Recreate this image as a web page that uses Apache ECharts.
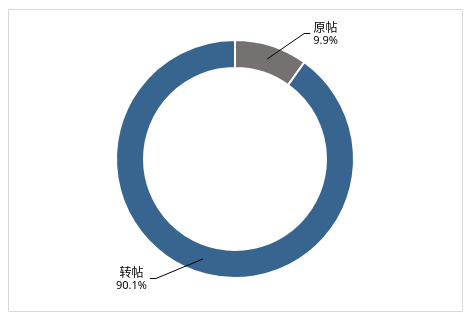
<!DOCTYPE html>
<html>
<head>
<meta charset="utf-8">
<script src="https://cdn.jsdelivr.net/npm/echarts@6/dist/echarts.min.js"></script>
<style>
html,body{margin:0;padding:0;background:#fff;}
#main{width:472px;height:318px;}
</style>
</head>
<body>
<div id="main"></div>
<script>
var categories = ['原帖', '转帖'];
var values = [9.9, 90.1];
var colors = ['#767171', '#386590'];

var CX = 235, CY = 159, R_IN = 91, R_OUT = 119;
var R_MID = (R_IN + R_OUT) / 2;

var lineLens = [[12.3, 35], [7, 46.5]];

var total = values.reduce(function (a, b) { return a + b; }, 0);
function midAngle(i) {
  var before = 0;
  for (var k = 0; k < i; k++) before += values[k];
  var deg = 90 - (before + values[i] / 2) / total * 360;
  return deg * Math.PI / 180;
}

var leaderPts = [];
var chart = echarts.init(document.getElementById('main'), null, {renderer: 'canvas'});

var data = categories.map(function (c, i) {
  return {
    name: c,
    value: values[i],
    itemStyle: {color: colors[i]},
    labelLine: {length: lineLens[i][0], length2: lineLens[i][1]}
  };
});

var borderRect = {
  type: 'rect',
  id: 'frame',
  shape: {x: 8.5, y: 9.5, width: 454, height: 302},
  style: {fill: 'none', stroke: '#d9d9d9', lineWidth: 1},
  silent: true
};

chart.setOption({
  animation: false,
  graphic: [borderRect],
  series: [{
    type: 'pie',
    center: [CX, CY],
    radius: [R_IN, R_OUT],
    startAngle: 90,
    clockwise: true,
    avoidLabelOverlap: false,
    itemStyle: {borderColor: '#ffffff', borderWidth: 2},
    label: {
      show: true,
      position: 'outside',
      alignTo: 'none',
      distanceToLabelLine: 3,
      formatter: function (p) {
        return '{n|' + p.name + '}\n{v|' + p.value.toFixed(1) + '%}';
      },
      rich: {
        n: {fontFamily: '"Noto Sans CJK SC", sans-serif', fontSize: 12, color: '#000', lineHeight: 14, align: 'center'},
        v: {fontFamily: '"Noto Sans", "DejaVu Sans", sans-serif', fontSize: 11, color: '#000', lineHeight: 13, align: 'center'}
      }
    },
    labelLine: {
      show: true,
      smooth: false,
      minTurnAngle: 0,
      lineStyle: {color: '#000', width: 1, opacity: 0}
    },
    labelLayout: function (params) {
      var i = params.dataIndex;
      var a = midAngle(i);
      var start = [CX + Math.cos(a) * R_MID, CY - Math.sin(a) * R_MID];
      var r = params.labelRect;
      var right = Math.cos(a) > 0;
      var ey = Math.round(r.y + r.height / 2) - 0.5;
      var p3 = right ? [r.x - 3, ey] : [r.x + r.width + 3, ey];
      var mid = [p3[0] + (right ? -6 : 6), ey];
      leaderPts[i] = [start, mid, p3];
      return {};
    },
    data: data
  }]
});

var leaders = leaderPts.map(function (pts, i) {
  return {
    type: 'polyline',
    id: 'leader' + i,
    z: 100,
    silent: true,
    shape: {points: pts},
    style: {stroke: '#000', lineWidth: 1, fill: null}
  };
});
chart.setOption({graphic: [borderRect].concat(leaders)});
</script>
</body>
</html>
